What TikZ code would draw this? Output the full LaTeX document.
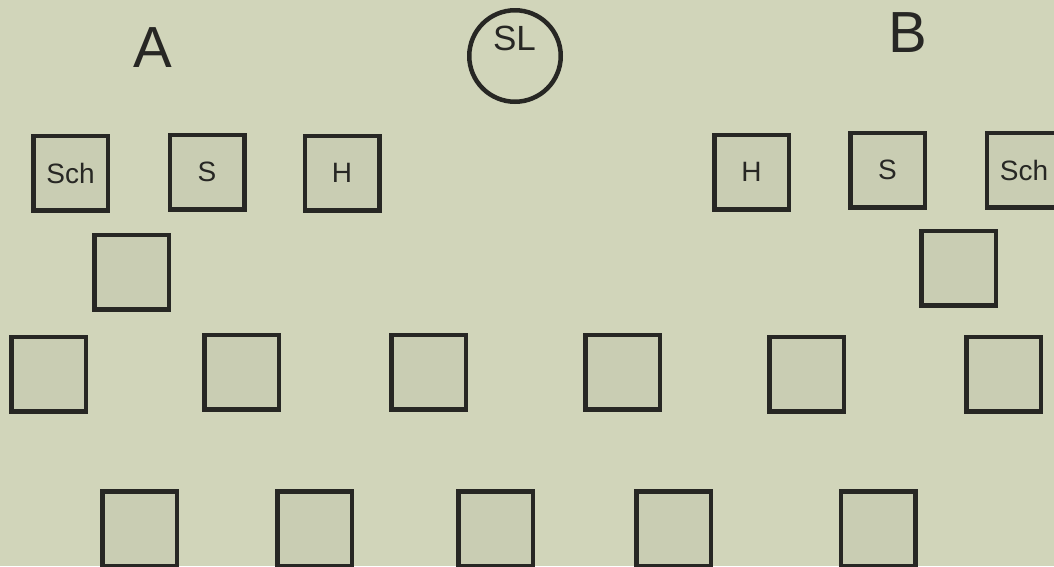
\documentclass[tikz,border=0pt]{standalone}
\usepackage{fontspec}
\setmainfont{Liberation Sans}
\definecolor{fondo}{HTML}{D1D5BA}
\definecolor{relleno}{HTML}{C9CDB3}
\definecolor{trazo}{HTML}{272724}
\begin{document}
\begin{tikzpicture}[x=1pt,y=-1pt,every node/.style={text=trazo,inner sep=0pt},caja/.style={draw=trazo,fill=relleno,line width=4.5pt,minimum size=74.5pt,font=\fontsize{28}{32}\selectfont},titulo/.style={font=\fontsize{58}{64}\selectfont}]
\useasboundingbox (0,0) rectangle (1054,566);
\fill[fondo] (0,0) rectangle (1054,566);
\node[titulo] (tA) at (153,48) {A};
\node[titulo] (tB) at (907.5,32.5) {B};
\node[draw=trazo,line width=4.5pt,circle,minimum size=91.5pt] (sl) at (515,56) {};
\node[font=\fontsize{35}{40}\selectfont] (slt) at (514.5,38.5) {SL};
\node[caja] (schA) at (70.5,173) {Sch};
\node[caja] (sA) at (207,172) {S};
\node[caja] (hA) at (342,173) {H};
\node[caja] (hB) at (751.5,172) {H};
\node[caja] (sB) at (887.5,170) {S};
\node[caja] (schB) at (1024,170) {Sch};
\node[caja] (a2) at (131.5,272) {};
\node[caja] (b2) at (958.5,268) {};
\node[caja] (f1) at (48.5,374) {};
\node[caja] (f2) at (241.5,372) {};
\node[caja] (f3) at (428.5,372) {};
\node[caja] (f4) at (622.5,372) {};
\node[caja] (f5) at (806.5,374) {};
\node[caja] (f6) at (1003.5,374) {};
\node[caja] (g1) at (139.5,528.5) {};
\node[caja] (g2) at (314.5,528.5) {};
\node[caja] (g3) at (495.5,528.5) {};
\node[caja] (g4) at (673.5,528.5) {};
\node[caja] (g5) at (878,528.5) {};
\end{tikzpicture}
\end{document}
